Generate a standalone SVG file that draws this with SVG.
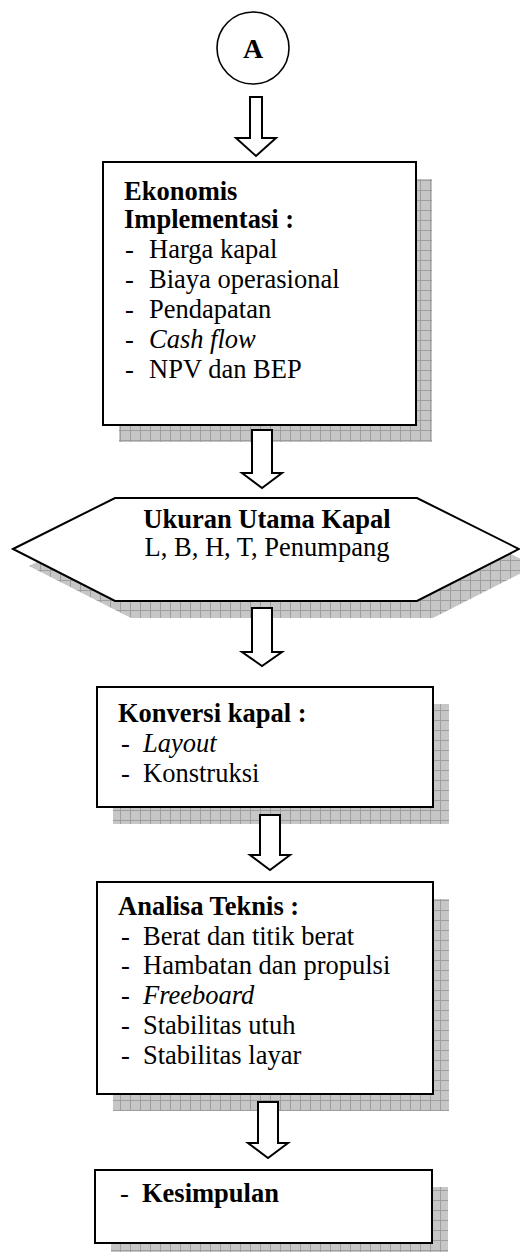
<svg xmlns="http://www.w3.org/2000/svg" width="520" height="1252" viewBox="0 0 520 1252">
<defs>
<pattern id="grid" width="10" height="10" patternUnits="userSpaceOnUse">
<rect width="10" height="10" fill="#c6c6c6"/>
<path d="M0 0.5H10M0.5 0V10" stroke="#9e9e9e" stroke-width="1"/>
</pattern>
</defs>
<style>
.box{fill:#fff;stroke:#000;stroke-width:2}
.shadow{fill:url(#grid);stroke:none}
.arrow{fill:#fff;stroke:#000;stroke-width:2;stroke-linejoin:miter}
text{font-family:"Liberation Serif","Times New Roman",serif;font-size:26.5px;fill:#000}
.b{font-weight:bold}
.i{font-style:italic}
.c{text-anchor:middle}
</style>
<rect width="520" height="1252" fill="#fff"/>

<g id="node-A">
<circle cx="253" cy="48" r="36" fill="#fff" stroke="#000" stroke-width="1.6"/>
<text x="253" y="58" class="b c" style="font-size:28px">A</text>
</g>

<g id="node-ekonomis">
<rect class="shadow" x="119" y="179" width="313" height="263"/>
<rect class="box" x="103" y="162" width="313" height="263"/>
<text x="124" y="200" class="b">Ekonomis</text>
<text x="124" y="228" class="b">Implementasi :</text>
<text x="125" y="258">-</text><text x="149" y="258">Harga kapal</text>
<text x="125" y="288">-</text><text x="149" y="288">Biaya operasional</text>
<text x="125" y="318">-</text><text x="149" y="318">Pendapatan</text>
<text x="125" y="348">-</text><text x="149" y="348" class="i">Cash flow</text>
<text x="125" y="378">-</text><text x="149" y="378">NPV dan BEP</text>
</g>

<g id="node-ukuran">
<polygon class="shadow" points="29,566 131,515 433,515 535,566 433,618 131,618"/>
<polygon class="box" points="13,549 115,498 417,498 519,549 417,601 115,601"/>
<text x="267" y="528" class="b c">Ukuran Utama Kapal</text>
<text x="267" y="556" class="c">L, B, H, T, Penumpang</text>
</g>

<g id="node-konversi">
<rect class="shadow" x="113" y="704" width="336" height="120"/>
<rect class="box" x="97" y="687" width="336" height="120"/>
<text x="118" y="722" class="b">Konversi kapal :</text>
<text x="121" y="752">-</text><text x="143" y="752" class="i">Layout</text>
<text x="121" y="782">-</text><text x="143" y="782">Konstruksi</text>
</g>

<g id="node-analisa">
<rect class="shadow" x="113" y="899" width="336" height="212"/>
<rect class="box" x="97" y="882" width="336" height="212"/>
<text x="118" y="915" class="b">Analisa Teknis :</text>
<text x="121" y="945">-</text><text x="143" y="945">Berat dan titik berat</text>
<text x="121" y="974">-</text><text x="143" y="974">Hambatan dan propulsi</text>
<text x="121" y="1004">-</text><text x="143" y="1004" class="i">Freeboard</text>
<text x="121" y="1034">-</text><text x="143" y="1034">Stabilitas utuh</text>
<text x="121" y="1064">-</text><text x="143" y="1064">Stabilitas layar</text>
</g>

<g id="node-kesimpulan">
<rect class="shadow" x="111" y="1187" width="337" height="73"/>
<rect class="box" x="95" y="1170" width="337" height="73"/>
<text x="120" y="1202">-</text><text x="142" y="1202" class="b">Kesimpulan</text>
</g>

<g id="connectors">
<path class="arrow" d="M250,97 H262 V138 H276 L256,156 L236,138 H250 Z"/>
<path class="arrow" d="M252,430 H272 V473 H282 L262,488 L242,473 H252 Z"/>
<path class="arrow" d="M252,608 H272 V652 H282 L262,666 L242,652 H252 Z"/>
<path class="arrow" d="M260,815 H280 V855 H290 L270,870 L250,855 H260 Z"/>
<path class="arrow" d="M258,1102 H278 V1143 H288 L268,1158 L248,1143 H258 Z"/>
</g>
</svg>
